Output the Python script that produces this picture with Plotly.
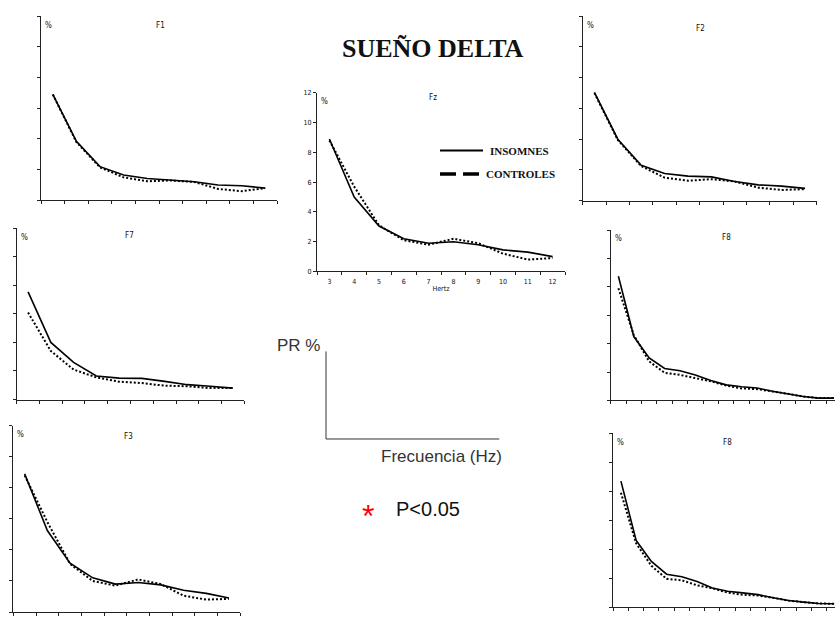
import plotly.graph_objects as go

# ---------------- data ----------------
hz = [3, 4, 5, 6, 7, 8, 9, 10, 11, 12]
hz_ticks = [2.5, 3.5, 4.5, 5.5, 6.5, 7.5, 8.5, 9.5, 10.5, 11.5, 12.5]
bins = [1, 2, 3, 4, 5, 6, 7, 8, 9, 10, 11, 12, 13, 14, 15]
bin_ticks = [0.5, 1.5, 2.5, 3.5, 4.5, 5.5, 6.5, 7.5, 8.5, 9.5, 10.5, 11.5, 12.5, 13.5, 14.5, 15.5]
y_ticks = [0, 2, 4, 6, 8, 10, 12]

fz_ins = [8.9, 5.0, 3.05, 2.2, 1.9, 2.0, 1.8, 1.45, 1.3, 1.0]
fz_con = [8.8, 5.7, 3.1, 2.1, 1.8, 2.2, 1.9, 1.2, 0.8, 0.9]

f1_ins = [6.9, 3.85, 2.2, 1.65, 1.43, 1.32, 1.22, 1.0, 0.96, 0.8]
f1_con = [6.9, 3.8, 2.15, 1.5, 1.25, 1.3, 1.2, 0.75, 0.6, 0.8]

f2_ins = [7.05, 4.0, 2.3, 1.77, 1.6, 1.55, 1.25, 1.03, 0.95, 0.8]
f2_con = [7.0, 3.95, 2.25, 1.5, 1.3, 1.4, 1.25, 0.85, 0.7, 0.75]

f7_ins = [7.55, 4.0, 2.6, 1.65, 1.5, 1.48, 1.27, 1.04, 0.93, 0.8]
f7_con = [6.1, 3.4, 2.1, 1.55, 1.25, 1.15, 0.97, 0.93, 0.8, 0.8]

f3_ins = [8.9, 5.25, 3.15, 2.2, 1.8, 1.9, 1.75, 1.4, 1.2, 0.9]
f3_con = [8.8, 5.8, 3.1, 2.0, 1.7, 2.1, 1.8, 1.05, 0.8, 0.85]

f8_ins = [8.75, 4.5, 3.0, 2.25, 2.1, 1.8, 1.4, 1.1, 0.97, 0.88, 0.65, 0.47, 0.28, 0.17, 0.17]
f8_con = [7.9, 4.6, 2.75, 1.95, 1.8, 1.6, 1.35, 1.05, 0.85, 0.8, 0.65, 0.47, 0.28, 0.17, 0.17]

f8b_ins = [8.7, 4.6, 3.15, 2.27, 2.1, 1.77, 1.32, 1.09, 0.98, 0.86, 0.64, 0.45, 0.34, 0.25, 0.23]
f8b_con = [7.9, 4.4, 2.85, 1.95, 1.85, 1.5, 1.3, 1.0, 0.85, 0.8, 0.64, 0.45, 0.34, 0.25, 0.23]

titles = ["F1", "F2", "Fz", "F7", "F8", "F3", "F8"]
series_names = ["INSOMNES", "CONTROLES"]

# ---------------- layout helpers ----------------
W, H = 835, 617
def fx(p):
    return p / W
def fy(p):
    return 1 - p / H

NARROW = "Liberation Sans Narrow, Arial Narrow, DejaVu Sans Condensed, sans-serif"
AXC = "#222222"

# (x-values, insomnes, controles, tickvals, xrange, x0, x1, ytop, ybottom)
panels = [
    (hz, f1_ins, f1_con, hz_ticks, [2.5, 12.5], 41, 277, 12.3, 199),
    (hz, f2_ins, f2_con, hz_ticks, [2.5, 12.5], 582.7, 816.7, 12.3, 199.3),
    (hz, fz_ins, fz_con, hz_ticks, [2.5, 12.5], 317, 565, 90, 271),
    (hz, f7_ins, f7_con, hz_ticks, [2.5, 12.5], 16.7, 244.3, 227.3, 400.7),
    (bins, f8_ins, f8_con, bin_ticks, [0.5, 0.5 + 224.3 / 15.4], 610.7, 835, 229, 401.7),
    (hz, f3_ins, f3_con, hz_ticks, [2.5, 12.5], 13.3, 240.3, 427.3, 616),
    (bins, f8b_ins, f8b_con, bin_ticks, [0.5, 0.5 + 221.7 / 15.23], 613.3, 835, 435, 611),
]

fig = go.Figure()
layout = {}
annotations = []

for i, (xs, ins, con, tv, xr, x0, x1, yt, yb) in enumerate(panels, start=1):
    sfx = "" if i == 1 else str(i)
    fig.add_trace(go.Scatter(x=xs, y=con, mode="lines", name=series_names[1],
                             line=dict(color="black", width=2, dash="2px,2px"),
                             xaxis="x" + sfx, yaxis="y" + sfx, showlegend=False))
    fig.add_trace(go.Scatter(x=xs, y=ins, mode="lines", name=series_names[0],
                             line=dict(color="black", width=1.6),
                             xaxis="x" + sfx, yaxis="y" + sfx, showlegend=False))
    is_fz = titles[i - 1] == "Fz"
    layout["xaxis" + sfx] = dict(
        domain=[fx(x0), fx(x1)], range=xr, anchor="y" + sfx,
        showline=True, linecolor=AXC, linewidth=1, mirror=False,
        tickmode="array", tickvals=tv, ticks="outside", ticklen=3, tickcolor=AXC,
        showticklabels=False, showgrid=False, zeroline=False, fixedrange=True)
    layout["yaxis" + sfx] = dict(
        domain=[fy(yb), fy(yt)], range=[0, 12], anchor="x" + sfx,
        showline=True, linecolor=AXC, linewidth=1,
        tickmode="array", tickvals=y_ticks, ticks="outside", ticklen=3, tickcolor=AXC,
        showticklabels=is_fz, tickfont=dict(family=NARROW, size=7, color="#111"),
        showgrid=False, zeroline=False, fixedrange=True)
    # "%" label
    annotations.append(dict(x=fx(x0 + 2), y=fy(yt + 9), xref="paper", yref="paper",
                            text="%", showarrow=False, xanchor="left", yanchor="middle",
                            font=dict(family=NARROW, size=8, color="#111")))

title_pos = [(160, 22), (700, 25), (433, 95), (129, 235), (726, 237), (128, 438), (727, 444)]
for t, (px, py) in zip(titles, title_pos):
    annotations.append(dict(x=fx(px), y=fy(py), xref="paper", yref="paper", text=t,
                            showarrow=False, xanchor="center", yanchor="middle",
                            font=dict(family=NARROW, size=8, color="#111")))

# overlay axis carrying the Fz frequency labels
layout["xaxis8"] = dict(
    domain=[fx(317), fx(565)], range=[2.5, 12.5], anchor="y3", overlaying="x3",
    side="bottom", showline=False, tickmode="array", tickvals=hz, ticks="",
    ticklabelstandoff=5, tickfont=dict(family=NARROW, size=7, color="#111"),
    showgrid=False, zeroline=False, fixedrange=True,
    title=dict(text="Hertz", font=dict(family=NARROW, size=7, color="#111"), standoff=0))
fig.add_trace(go.Scatter(x=hz, y=fz_ins, mode="lines", xaxis="x8", yaxis="y3",
                         line=dict(width=0, color="rgba(0,0,0,0)"),
                         showlegend=False, hoverinfo="skip"))

# main title
annotations.append(dict(x=fx(432.5), y=fy(45), xref="paper", yref="paper",
                        text="<b>SUEÑO DELTA</b>", showarrow=False,
                        xanchor="center", yanchor="middle",
                        font=dict(family="Liberation Serif, Times New Roman, serif", size=26, color="#111")))

# legend (custom)
LEGF = dict(family="Liberation Serif, Times New Roman, serif", size=11, color="#111")
annotations.append(dict(x=fx(488), y=fy(148.5), xref="paper", yref="paper",
                        text="<b>INSOMNES</b>", showarrow=False, xanchor="left", yanchor="middle", font=LEGF))
annotations.append(dict(x=fx(484), y=fy(172.5), xref="paper", yref="paper",
                        text="<b>CONTROLES</b>", showarrow=False, xanchor="left", yanchor="middle", font=LEGF))
shapes = [
    dict(type="line", xref="paper", yref="paper", x0=fx(440), x1=fx(483), y0=fy(148.3), y1=fy(148.3),
         line=dict(color="black", width=2)),
    dict(type="line", xref="paper", yref="paper", x0=fx(440), x1=fx(480), y0=fy(172.3), y1=fy(172.3),
         line=dict(color="black", width=3.5, dash="16px,7px")),
    # schematic axes
    dict(type="line", xref="paper", yref="paper", x0=fx(326), x1=fx(326), y0=fy(352), y1=fy(440.7),
         line=dict(color="#333", width=1)),
    dict(type="line", xref="paper", yref="paper", x0=fx(326), x1=fx(499.3), y0=fy(440.7), y1=fy(440.7),
         line=dict(color="#333", width=1)),
]

SANS = "Liberation Sans, Arial, sans-serif"
annotations.append(dict(x=fx(275), y=fy(346), xref="paper", yref="paper", text="PR %",
                        showarrow=False, xanchor="left", yanchor="middle",
                        font=dict(family=SANS, size=17, color="#333")))
annotations.append(dict(x=fx(379), y=fy(458.5), xref="paper", yref="paper", text="Frecuencia (Hz)",
                        showarrow=False, xanchor="left", yanchor="middle",
                        font=dict(family=SANS, size=17, color="#333")))
annotations.append(dict(x=fx(368), y=fy(519), xref="paper", yref="paper", text="*",
                        showarrow=False, xanchor="center", yanchor="middle",
                        font=dict(family=SANS, size=32, color="#ff0000")))
annotations.append(dict(x=fx(394), y=fy(511.5), xref="paper", yref="paper", text="P<0.05",
                        showarrow=False, xanchor="left", yanchor="middle",
                        font=dict(family=SANS, size=20, color="#111")))

fig.update_layout(
    width=W, height=H, margin=dict(l=0, r=0, t=0, b=0),
    paper_bgcolor="white", plot_bgcolor="white", showlegend=False,
    annotations=annotations, shapes=shapes, **layout)

fig.write_html(
    "out.html", config={"displayModeBar": False},
    post_script=("document.body.style.margin='0px';"
                 "document.body.style.overflow='hidden';"
                 "document.documentElement.style.overflow='hidden';"))
